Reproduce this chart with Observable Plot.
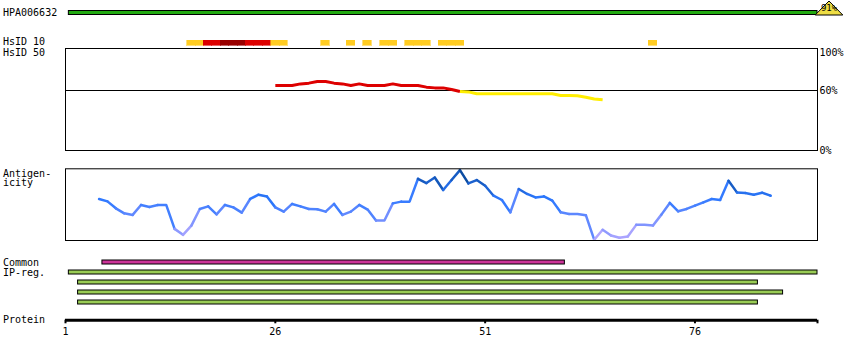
<!DOCTYPE html>
<html><head><meta charset="utf-8">
<script src="https://cdn.jsdelivr.net/npm/d3@7"></script>
<script src="https://cdn.jsdelivr.net/npm/@observablehq/plot@0.6"></script>
<style>
body{margin:0;background:#fff;}
#chart{position:relative;width:850px;height:360px;font-family:"DejaVu Sans Mono",monospace;font-size:10px;color:#000;overflow:hidden;}
.lbl{position:absolute;left:3px;line-height:10px;white-space:pre;}
#chart svg{position:absolute;left:0;overflow:visible;}
</style></head><body><div id="chart"></div>
<script>
// ---------- data ----------
const antibodyName = "HPA006632";
const antibodyScore = "91%";
const hpaStart = 1.4, hpaEnd = 90.6;

const hs10Residues = [16,17,18,19,20,21,22,23,24,25,26,27,32,35,37,39,40,42,43,44,46,47,48,71];
const hs10Levels   = [1,1,2,2,3,3,3,2,2,2,1,1,1,1,1,1,1,1,1,1,1,1,1,1];

const hs50Residues = [26,27,28,29,30,31,32,33,34,35,36,37,38,39,40,41,42,43,44,45,46,47,48,49,50,51,52,53,54,55,56,57,58,59,60,61,62,63,64,65];
const hs50Values   = [64.8,64.8,64.8,66.3,67,68.6,68.6,67,66.3,64.8,66.3,64.8,64.8,64.8,66.3,64.8,64.8,64.8,63.2,62.5,62.5,61,59,58.6,56.7,56.7,56.7,56.7,56.7,56.7,56.7,56.7,56.7,56.7,55,55,54.7,53.3,51.5,50.7];
const hs50Ticks = [0, 60, 100];
const hs50Threshold = 60;

const antigenResidues = [5,6,7,8,9,10,11,12,13,14,15,16,17,18,19,20,21,22,23,24,25,26,27,28,29,30,31,32,33,34,35,36,37,38,39,40,41,42,43,44,45,46,47,48,49,50,51,52,53,54,55,56,57,58,59,60,61,62,63,64,65,66,67,68,69,70,71,72,73,74,75,76,77,78,79,80,81,82,83,84,85];
const antigenValues = [57.9,54.6,44.9,37.9,35.7,49.6,46.8,49.6,49.6,16.2,7.9,20.8,44,47.6,36.5,49.6,46.2,38.9,57.9,63.9,61.5,46.2,40.3,51,47.6,44,43.5,40.3,51,35.7,40.3,49.6,43.1,27.8,27.8,51.8,54.2,54.2,86.1,80.1,87.9,70.4,84.3,98.2,79.6,84.3,76.4,62.5,56.5,39.3,71.8,64.9,60.1,61.5,55.6,39.3,37.1,37.1,35.3,1,14.9,6.9,3.8,5.6,21.8,21.8,20.8,36.1,52.4,40.7,44,48.6,53.2,57.9,56.5,83.3,67.1,66.2,63.9,66.7,62.5];

const regionRows  = ["Common","IP-1","IP-2","IP-3","IP-4"];
const regionKinds = ["common","ip","ip","ip","ip"];
const regionStart = [5.4,1.4,2.5,2.5,2.5];
const regionEnd   = [60.5,90.6,83.5,86.5,83.5];

const axisLabelTicks = [1,26,51,76];
const proteinEnd = 90.6;

const leftLabels = [
  {text:"HPA006632", top:7.5},
  {text:"HsID 10", top:37.2},
  {text:"HsID 50", top:47.5},
  {text:"Antigen-", top:168.8},
  {text:"icity", top:178.2},
  {text:"Common", top:258.2},
  {text:"IP-reg.", top:268.2},
  {text:"Protein", top:314.8}
];

// ---------- layout ----------
const W = 850, ML = 65, MR = 33;
const xDomain = [1, proteinEnd];
const svgStyle = {background:"transparent", overflow:"visible", fontFamily:"DejaVu Sans Mono, monospace", fontSize:"10px", color:"black"};
const chart = document.getElementById("chart");
function place(svg, top){ svg.style.top = top + "px"; chart.appendChild(svg); }

// Top antibody bar
const triSymbol = {draw(ctx){ ctx.moveTo(0,-14); ctx.lineTo(13.8,0); ctx.lineTo(-13.8,0); ctx.closePath(); }};
place(Plot.plot({
  width: W, height: 16, marginTop: 10.5, marginBottom: 1.5, marginLeft: ML, marginRight: MR,
  x: {domain: xDomain, axis: null},
  style: svgStyle,
  marks: [
    Plot.barX([{s: hpaStart, e: hpaEnd}], {x1: "s", x2: "e", fill: "#22aa11", stroke: "black", strokeWidth: 1}),
    Plot.dot([hpaEnd], {x: d => d, dx: 11.5, frameAnchor: "bottom", symbol: triSymbol, r: 5, fill: "#eedd44", stroke: "black", strokeWidth: 1}),
    Plot.text([antibodyScore], {x: () => hpaEnd, dx: 11.5, dy: -4.4, frameAnchor: "bottom", text: d => d, fontSize: 9, fill: "black"})
  ]
}), 0);

// HsID 10 strip
const hs10Data = hs10Residues.map((r, i) => ({r, lvl: hs10Levels[i]}));
place(Plot.plot({
  width: W, height: 20, marginTop: 10, marginBottom: 5, marginLeft: ML, marginRight: MR,
  x: {domain: xDomain, axis: null},
  color: {type: "ordinal", domain: [1,2,3], range: ["#ffcc22","#dd0000","#990000"]},
  style: svgStyle,
  marks: [
    Plot.barX(hs10Data, {x1: d => d.r - 0.5, x2: d => d.r + 0.5, fill: "lvl", stroke: "lvl", strokeWidth: 0.6, shapeRendering: "crispEdges"})
  ]
}), 30);

// HsID 50 panel
const hs50Data = hs50Residues.map((r, i) => ({r, v: hs50Values[i]}));
place(Plot.plot({
  width: W, height: 115, marginTop: 8, marginBottom: 5, marginLeft: ML, marginRight: MR,
  x: {domain: xDomain, axis: null},
  y: {type: "linear", domain: [0, 60, 100], range: [110, 50, 8], axis: null},
  color: {domain: ["high","low"], range: ["#dd0000","#ffee00"]},
  style: svgStyle,
  marks: [
    Plot.ruleY([hs50Threshold], {stroke: "black", strokeWidth: 1}),
    Plot.line(hs50Data, {x: "r", y: "v", z: null, stroke: d => d.v >= hs50Threshold ? "high" : "low", strokeWidth: 3, strokeLinecap: "butt", strokeLinejoin: "miter"}),
    Plot.frame({stroke: "black", strokeWidth: 1}),
    Plot.text(hs50Ticks.filter(t => t === 100), {y: d => d, frameAnchor: "right", dx: 2, textAnchor: "start", lineAnchor: "top", text: d => d + "%", fill: "black"}),
    Plot.text(hs50Ticks.filter(t => t !== 100), {y: d => d, frameAnchor: "right", dx: 2, textAnchor: "start", lineAnchor: "middle", text: d => d + "%", fill: "black"})
  ]
}), 40);

// Antigenicity panel
const antigenData = antigenResidues.map((r, i) => ({r, v: antigenValues[i]}));
place(Plot.plot({
  width: W, height: 85, marginTop: 8.3, marginBottom: 5, marginLeft: ML, marginRight: MR,
  x: {domain: xDomain, axis: null},
  y: {domain: [0, 100], axis: null},
  color: {type: "linear", domain: [0, 30, 60, 100], range: ["#b4a8ff", "#6c8cff", "#2c78ff", "#0a4a9e"]},
  style: svgStyle,
  marks: [
    Plot.line(antigenData, {x: "r", y: "v", z: null, stroke: "v", strokeWidth: 2.5}),
    Plot.frame({stroke: "black", strokeWidth: 1})
  ]
}), 160);

// Common / IP-reg bars
const regionData = regionRows.map((row, i) => ({row, kind: regionKinds[i], s: regionStart[i], e: regionEnd[i]}));
place(Plot.plot({
  width: W, height: 55, marginTop: 2, marginBottom: 3, marginLeft: ML, marginRight: MR,
  x: {domain: xDomain, axis: null},
  y: {type: "band", domain: regionRows, range: [2, 52], paddingInner: 0.6, paddingOuter: 0.3, axis: null},
  color: {domain: ["common","ip"], range: ["#cc3399","#99cc55"]},
  style: svgStyle,
  marks: [
    Plot.barX(regionData, {x1: "s", x2: "e", y: "row", fill: "kind", stroke: "black", strokeWidth: 1})
  ]
}), 255);

// Protein axis
place(Plot.plot({
  width: W, height: 60, marginTop: 5, marginBottom: 40.3, marginLeft: ML, marginRight: MR,
  x: {domain: xDomain},
  y: {domain: [0, 1], axis: null},
  style: svgStyle,
  marks: [
    Plot.ruleY([0], {stroke: "black", strokeWidth: 3}),
    Plot.axisX({ticks: [...axisLabelTicks, proteinEnd], tickSize: 3.6, tickPadding: 4.5, strokeWidth: 2, stroke: "black", fill: "black",
      tickFormat: d => axisLabelTicks.includes(d) ? String(d) : ""})
  ]
}), 300);

// Left labels
for (const l of leftLabels) {
  const d = document.createElement("div");
  d.className = "lbl";
  d.style.top = l.top + "px";
  d.textContent = l.text;
  chart.appendChild(d);
}
</script></body></html>
